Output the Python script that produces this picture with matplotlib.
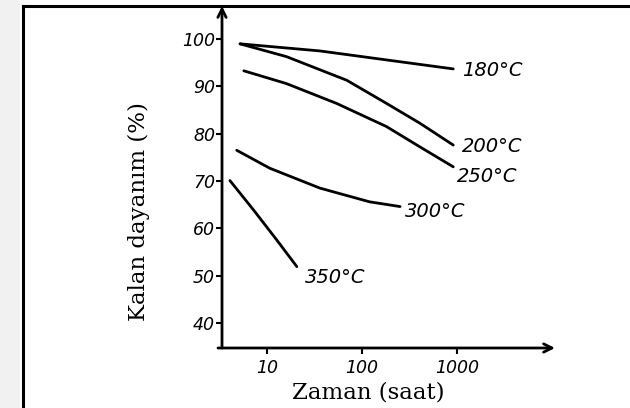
import numpy as np
import matplotlib
matplotlib.use("Agg")
import matplotlib.pyplot as plt
from matplotlib.lines import Line2D
from matplotlib.patches import Rectangle

# remaining strength (%) vs time (hours)
t_180 = [5.2, 36, 181, 910]
s_180 = [99.0, 97.5, 95.6, 93.7]
t_200 = [5.2, 16, 69, 181, 407, 910]
s_200 = [99.0, 96.3, 91.3, 86.4, 82.2, 77.6]
t_250 = [5.7, 16, 54, 181, 407, 910]
s_250 = [93.3, 90.6, 86.4, 81.5, 77.2, 73.0]
t_300 = [4.8, 10.7, 36, 120, 251]
s_300 = [76.5, 72.7, 68.5, 65.6, 64.6]
t_350 = [4.07, 7.2, 12.7, 20.6]
s_350 = [70.1, 63.9, 57.5, 51.9]

labels = ["180°C", "200°C", "250°C", "300°C", "350°C"]
label_x = [1120, 1120, 1000, 283, 25]
label_y = [93.4, 77.2, 71.0, 63.6, 49.7]

y_ticks = [40, 50, 60, 70, 80, 90, 100]
x_ticks = [10, 100, 1000]

W, H = 630, 408
fig = plt.figure(figsize=(W / 100, H / 100), dpi=100)
fig.patch.set_facecolor("white")

# faint scan margin + page frame
fig.add_artist(Rectangle((0, 0), 20 / W, 1, transform=fig.transFigure,
                         facecolor="#f1f1f1", edgecolor="none"))
fig.add_artist(Line2D([23 / W, 1], [1 - 6 / H, 1 - 6 / H], transform=fig.transFigure,
                      color="black", lw=2.2))
fig.add_artist(Line2D([23 / W, 23 / W], [0, 1 - 6 / H], transform=fig.transFigure,
                      color="black", lw=2.2))

ax = fig.add_axes([222 / W, (H - 348) / H, (555 - 222) / W, (348 - 6) / H])
ax.set_xscale("log")
ax.set_xlim(3.36, 10700)
ax.set_ylim(34.7, 107.0)
ax.patch.set_alpha(0)

for sp in ax.spines.values():
    sp.set_visible(False)

# axes with open arrow heads
ax.annotate("", xy=(0, 1.0), xytext=(0, 0), xycoords="axes fraction",
            arrowprops=dict(arrowstyle="->,head_length=0.6,head_width=0.3",
                            lw=2.0, color="black", shrinkA=0, shrinkB=0),
            annotation_clip=False)
ax.annotate("", xy=(1.0, 0), xytext=(-0.012, 0), xycoords="axes fraction",
            arrowprops=dict(arrowstyle="->,head_length=0.6,head_width=0.3",
                            lw=2.0, color="black", shrinkA=0, shrinkB=0),
            annotation_clip=False)

tick_font = dict(family="DejaVu Sans", style="italic", size=12.5)
ax.set_yticks(y_ticks)
ax.set_yticklabels([str(v) for v in y_ticks], fontdict=tick_font)
ax.set_xticks(x_ticks)
ax.set_xticklabels([str(v) for v in x_ticks], fontdict=tick_font)
ax.xaxis.set_minor_locator(matplotlib.ticker.NullLocator())
ax.tick_params(axis="y", direction="out", length=4, width=1.5, pad=1)
ax.tick_params(axis="x", direction="out", length=4, width=1.5, pad=4)

curves = [(t_180, s_180), (t_200, s_200), (t_250, s_250), (t_300, s_300), (t_350, s_350)]
for (t, s) in curves:
    ax.plot(t, s, color="black", lw=2.0, solid_capstyle="round", solid_joinstyle="round")

for lab, lx, ly in zip(labels, label_x, label_y):
    ax.text(lx, ly, lab, ha="left", va="center", family="DejaVu Sans",
            style="italic", fontsize=14)

fig.text(368 / W, 1 - 392 / H, "Zaman (saat)", ha="center", va="center",
         family="DejaVu Serif", fontsize=16.5)
fig.text(139 / W, 1 - 212 / H, "Kalan dayanım (%)", ha="center", va="center",
         rotation=90, family="DejaVu Serif", fontsize=16.5)

fig.savefig("out.png", dpi=100)
